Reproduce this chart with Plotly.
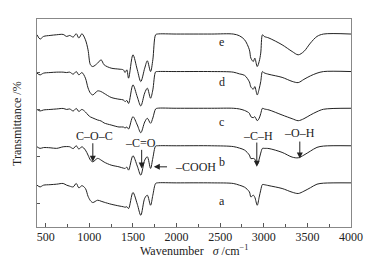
import plotly.graph_objects as go

# Wavenumber grid (cm^-1)
wavenumber = [400, 435, 475, 550, 625, 700, 740, 775, 815, 850, 880, 915, 955, 985, 1013,
              1040, 1095, 1135, 1170, 1250, 1340, 1390, 1410, 1430, 1450, 1500, 1550, 1590,
              1635, 1665, 1702, 1728, 1760, 1780, 2000, 2400, 2650, 2720, 2780, 2835, 2852,
              2880, 2897, 2925, 2947, 2965, 2985, 3005, 3060, 3210, 3325, 3395, 3460, 3535,
              3610, 3685, 4000]

# Transmittance (stacked, arbitrary units)
trans_e = [191.7, 187.4, 190, 191, 191.7, 192, 190, 191, 189.4, 192.7, 188.4, 192.7, 186.7, 176.7, 161.7,
           160, 163.4, 166.7, 161.7, 158.4, 157.4, 156.7, 154, 156.7, 148.4, 171.7, 156.7, 145,
           158.4, 165.7, 155, 166.7, 191.7, 192.4, 192.4, 192.4, 192.4, 190.7, 186.7, 176.7, 168.4,
           165, 168.4, 160, 165, 173.4, 191.7, 190, 188.4, 181.7, 175, 171.7, 175, 183.4,
           190, 192.4, 192.4]
trans_d = [153.4, 151.7, 153.4, 154, 154.4, 154.4, 154, 154.4, 152.4, 155, 151.7, 154, 148.4, 138.7, 133.4,
           131.7, 135.7, 135, 133.2, 129.2, 127.4, 126.7, 125, 126.2, 123.2, 141.7, 129.7, 120.7,
           133.7, 138.4, 128.4, 136.7, 154.7, 155, 155, 155, 154.4, 152.7, 151.2, 144.7, 139.7,
           137.4, 140, 131.7, 137.7, 145, 155, 153.7, 152.2, 149.2, 145.2, 144, 147.2, 150.7,
           153.4, 155, 155]
trans_c = [117.2, 115.7, 116.7, 117.2, 117.7, 118.2, 117.2, 117.7, 115.7, 118.2, 115.2, 117.2, 114.7, 111.7, 109.7,
           108.7, 106.7, 105.7, 103.7, 101.7, 99.7, 99.7, 98.7, 99.7, 97.7, 110, 101.7, 94,
           104.7, 108.4, 103.4, 108.7, 117.7, 118.4, 118.4, 118.4, 118.4, 117.7, 116.2, 113.4, 110,
           109, 110, 106, 108.4, 113, 118.4, 117.7, 116.7, 111.7, 108, 106, 108, 111.7,
           115, 117.4, 118.4]
trans_b = [80, 78.4, 79.2, 79, 78.4, 80, 80.2, 80, 78.2, 81, 77.7, 80, 76.7, 71.7, 66.7,
           65, 68.4, 66.7, 64.7, 61.7, 60, 58.7, 58.4, 59.7, 56.7, 71, 60.7, 51.7,
           66.7, 70, 58.4, 68.7, 80.7, 81, 81, 81, 80.2, 78.7, 76.7, 71.7, 68.2,
           68.4, 67.7, 62.4, 67.7, 73.7, 78.4, 78.4, 78.2, 74.4, 69.7, 69, 71.7, 75.7,
           79.4, 80.7, 81]
trans_a = [41.7, 40, 41.7, 42.2, 42.7, 43.4, 41.7, 40.7, 40, 43.4, 39, 41.2, 38.4, 30.7, 26.2,
           24.4, 26.7, 25.7, 24.7, 22.7, 21, 20.2, 19.7, 20.2, 18.4, 34.4, 22.7, 11.7,
           28.7, 31.7, 21.7, 31.7, 43.4, 44, 44, 44, 43.4, 41.7, 39.7, 35, 30,
           31.7, 29.7, 21.7, 29.7, 36.7, 42.4, 42.2, 41.2, 38.4, 34.7, 33.4, 35.7, 39.2,
           42.7, 43.7, 44]

series_names = ["a", "b", "c", "d", "e"]
series_values = [trans_a, trans_b, trans_c, trans_d, trans_e]
label_x = 2520
label_y = [25.7, 65, 105, 145, 184]

# Peak annotations: (text, text_x, text_y, arrow tail x, tail y, head x, head y)
peak_labels = [
    ("C–O–C", 1058, 91, 1040, 85, 1040, 65),
    ("–C=O", 1588, 83.4, 1600, 78.4, 1600, 58.4),
    ("–C–H", 2928, 91, 2920, 85.7, 2920, 60),
    ("–O–H", 3413, 93.4, 3413, 86.7, 3413, 68.4),
]
cooh_text = "–COOH"
x_title = "Wavenumber   <i>σ</i> /cm<sup>−1</sup>"
y_title = "Transmittance /%"

FONT = "Liberation Serif, Times New Roman, serif"
INK = "#222222"
FS = 12
fig = go.Figure()
for name, vals in zip(series_names, series_values):
    fig.add_trace(go.Scatter(x=wavenumber, y=vals, mode="lines", name=name,
                             line=dict(color=INK, width=1.0, shape="spline", smoothing=0.9),
                             showlegend=False, hoverinfo="skip"))

annotations = []
for name, ly in zip(series_names, label_y):
    annotations.append(dict(x=label_x, y=ly, text=name, showarrow=False,
                            font=dict(family=FONT, size=FS, color=INK)))
for text, tx, ty, ax, ay, hx, hy in peak_labels:
    annotations.append(dict(x=tx, y=ty, text=text, showarrow=False,
                            font=dict(family=FONT, size=FS, color=INK)))
    annotations.append(dict(x=hx, y=hy, ax=ax, ay=ay, axref="x", ayref="y", text="",
                            showarrow=True, arrowhead=2, arrowsize=1.2, arrowwidth=1,
                            arrowcolor=INK))
annotations.append(dict(x=1739, y=60, ax=1908, ay=60, axref="x", ayref="y", text="",
                        showarrow=True, arrowhead=2, arrowsize=1.2, arrowwidth=1,
                        arrowcolor=INK))
annotations.append(dict(x=1960, y=60, text=cooh_text, showarrow=False, xanchor="left",
                        font=dict(family=FONT, size=FS, color=INK)))
annotations.append(dict(xref="paper", yref="paper", x=0.5, y=-0.112, yanchor="middle",
                        text=x_title, showarrow=False, font=dict(family=FONT, size=FS, color=INK)))
annotations.append(dict(xref="paper", yref="paper", x=-0.064, y=0.5, xanchor="center",
                        yanchor="middle", textangle=-90,
                        text=y_title, showarrow=False, font=dict(family=FONT, size=FS, color=INK)))

fig.update_layout(
    width=375, height=264,
    margin=dict(l=37, r=21, t=19, b=37),
    paper_bgcolor="white", plot_bgcolor="white",
    font=dict(family=FONT, size=FS, color=INK),
    annotations=annotations,
    xaxis=dict(range=[400, 4000], tick0=500, dtick=500, ticks="inside", ticklen=4,
               tickcolor="#555", showline=True, linecolor="#888", linewidth=1, mirror=True,
               showgrid=False, zeroline=False, ticklabelstandoff=-1,
               minor=dict(ticks="inside", dtick=250, tick0=250, ticklen=3, tickcolor="#555"),
               tickfont=dict(family=FONT, size=FS, color=INK)),
    yaxis=dict(range=[0, 207.4], tickvals=[23.4, 70, 117.4, 154.4], showticklabels=False,
               ticks="inside", ticklen=3, tickcolor="#555",
               showline=True, linecolor="#888", linewidth=1, mirror=True,
               showgrid=False, zeroline=False),
)

fig.write_html("out.html", config={"displayModeBar": False},
               post_script="document.body.style.margin='0';document.body.style.overflow='hidden';")
